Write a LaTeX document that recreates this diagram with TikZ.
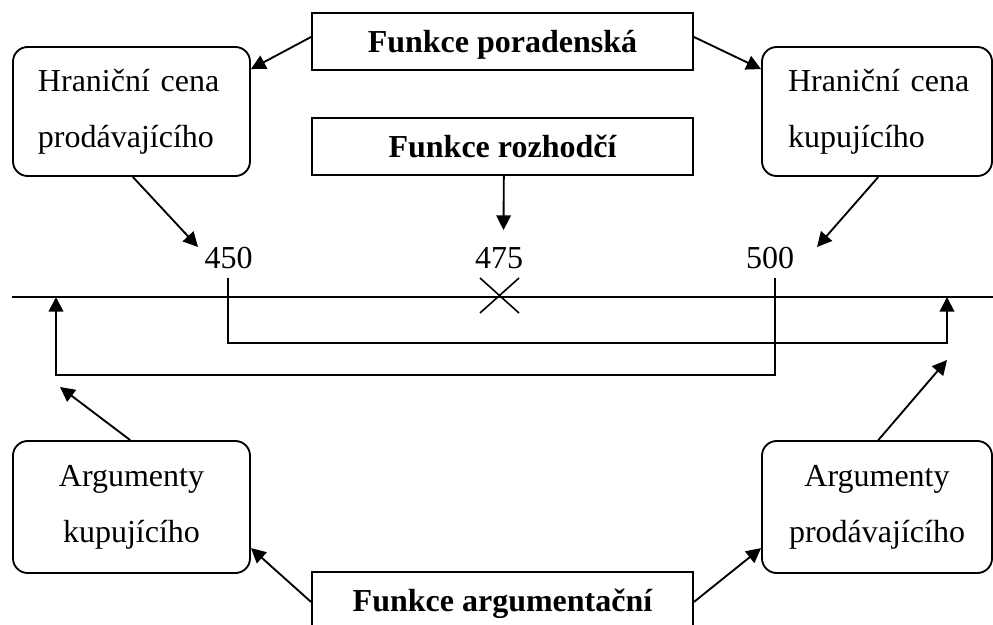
\documentclass[tikz,border=0pt]{standalone}
\usepackage{fontspec}
\setmainfont{Liberation Serif}
\usetikzlibrary{arrows.meta,calc}
\begin{document}
\begin{tikzpicture}[x=0.75pt,y=-0.75pt,
  line width=1.4pt,
  >={Triangle[length=11pt,width=11pt]},
  txt/.style={font=\fontsize{24}{42}\selectfont},
  func/.style={draw,rectangle,minimum width=285.75pt,minimum height=42.75pt,
    inner sep=0pt,text depth=0pt,font=\fontsize{24}{42}\selectfont\bfseries},
  limitbox/.style={draw,rounded corners=11pt,minimum height=96.75pt,align=left,
    inner ysep=0pt,txt},
  argbox/.style={draw,rounded corners=11pt,minimum height=99pt,align=center,
    inner sep=0pt,txt},
  num/.style={inner sep=0pt,anchor=base,txt}
]
\useasboundingbox (0,0) rectangle (993,625);

% function boxes
\node[func] (por) at (502.5,41.5) {Funkce poradenská};
\node[func] (roz) at (502.5,146.5) {Funkce rozhodčí};
\node[func] (arg) at (502.5,600.5) {Funkce argumentační};

% limit price boxes
\node[limitbox,text width=151.25pt,inner xsep=13.25pt] (hl) at (131.5,111.5)
  {\hspace*{5.5pt}Hraniční cena\\\hspace*{5.5pt}prodávajícího};
\node[limitbox,text width=146pt,inner xsep=13.25pt] (hr) at (877,111.5)
  {\hspace*{6.25pt}Hraniční cena\\\hspace*{6.25pt}kupujícího};

% argument boxes
\node[argbox,minimum width=177.75pt] (al) at (131.5,507) {Argumenty\\kupujícího};
\node[argbox,minimum width=172.5pt] (ar) at (877,507) {Argumenty\\prodávajícího};

% numbers
\node[num] (n450) at (228.5,268) {450};
\node[num] (n475) at (499,268) {475};
\node[num] (n500) at (770,268) {500};

% axis
\coordinate (axL) at (12,297);
\coordinate (axR) at (993,297);
\draw (axL) -- (axR);

% cross at 475
\coordinate (xa) at (480,278);
\coordinate (xb) at (519,313);
\coordinate (xc) at (480,313);
\coordinate (xd) at (519,278);
\draw[line width=1.2pt] (xa) -- (xb) (xc) -- (xd);

% arrow tips (free ends)
\coordinate (t450) at (198,247);
\coordinate (t500) at (817,247);
\coordinate (t475) at (503.5,230);
\coordinate (tal) at (60,387);
\coordinate (tar) at (947,360);

% arrows from Funkce poradenská
\draw[->] ([yshift=3.4pt]por.west) -- ([yshift=-17.25pt]hl.north east);
\draw[->] ([yshift=3.4pt]por.east) -- ([yshift=-17.25pt]hr.north west);

% arrows to the numbers
\draw[->] ([xshift=1pt]hl.south) -- (t450);
\draw[->] ([xshift=1pt]hr.south) -- (t500);
\draw[->] ([xshift=1pt]roz.south) -- (t475);

% arrows from argument boxes
\draw[->] ([xshift=-1pt]al.north) -- (tal);
\draw[->] ([xshift=1pt]ar.north) -- (tar);

% arrows from Funkce argumentační
\draw[->] ([yshift=-1.1pt]arg.west) -- ([yshift=-81pt]al.north east);
\draw[->] ([yshift=-1.1pt]arg.east) -- ([yshift=-81pt]ar.north west);

% brackets
\coordinate (b450) at (228,278);
\coordinate (b450d) at (228,343);
\coordinate (b450r) at (947,343);
\coordinate (b450e) at (947,297);
\draw[->] (b450) -- (b450d) -- (b450r) -- (b450e);

\coordinate (b500) at (775,278);
\coordinate (b500d) at (775,375);
\coordinate (b500l) at (56,375);
\coordinate (b500e) at (56,297);
\draw[->] (b500) -- (b500d) -- (b500l) -- (b500e);
\end{tikzpicture}
\end{document}
